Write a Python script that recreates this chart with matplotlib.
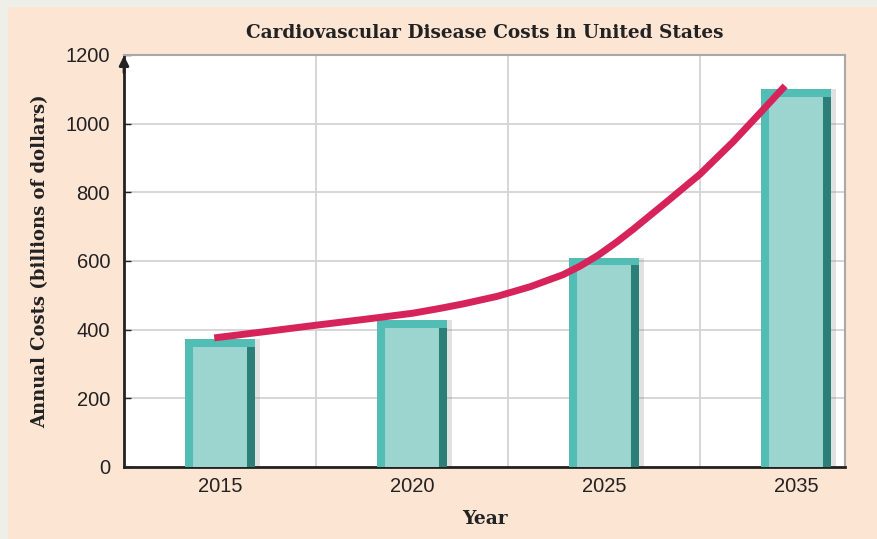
import matplotlib.pyplot as plt
from matplotlib.patches import Rectangle

# data
years = ['2015', '2020', '2025', '2035']
costs = [373, 428, 610, 1101]          # bar heights, billions of dollars
# trend curve, read point by point (x in bar-slot units)
trend_x = [-0.03, 0.245, 0.5, 0.766, 1.005, 1.146, 1.266, 1.443, 1.615, 1.786,
           1.875, 1.97, 2.068, 2.151, 2.328, 2.5, 2.672, 2.8125, 2.943]
trend_y = [376, 395, 413, 431, 448, 462, 475, 497, 525, 560,
           585, 617, 656, 692, 773, 853, 947, 1031, 1110]
y_ticks = [0, 200, 400, 600, 800, 1000, 1200]

peach = '#fde5d4'
teal = '#52bdb4'
teal_light = '#9cd5d0'
teal_dark = '#2c7f79'
red = '#d6245a'

fig = plt.figure(figsize=(8.77, 5.39), dpi=100)
fig.patch.set_facecolor('#efefe9')
fig.patches.append(Rectangle((8 / 877, 0), 1, 1 - 7 / 539, transform=fig.transFigure,
                             facecolor=peach, edgecolor='none', zorder=-10))

ax = fig.add_axes([124 / 877, 72 / 539, 721 / 877, 412 / 539])
ax.set_facecolor('white')

x = range(len(years))
w = 0.365        # outer bar width
inset = 0.042    # inner panel inset
top_off = 23     # inner panel top offset (data units)

# soft drop shadow, outer bar, dark right edge, light front panel
ax.bar([i + w / 2 + 0.012 for i in x], costs, width=0.03, color='#888888', alpha=0.25,
       zorder=2, linewidth=0)
ax.bar(x, costs, width=w, color=teal, zorder=3, linewidth=0)
inner_h = [c - top_off for c in costs]
ax.bar([i + w / 2 - inset / 2 for i in x], inner_h, width=inset, color=teal_dark,
       zorder=4, linewidth=0)
ax.bar([i - w / 2 + inset + (w - 2 * inset) / 2 for i in x], inner_h, width=w - 2 * inset,
       color=teal_light, zorder=5, linewidth=0)

ax.plot(trend_x, trend_y, color=red, linewidth=5, solid_capstyle='butt',
        solid_joinstyle='round', zorder=6)

ax.set_xlim(-0.5, 3.255)
ax.set_ylim(0, 1200)
ax.set_xticks(list(x))
ax.set_xticklabels(years)
ax.set_yticks(y_ticks)
ax.set_xticks([0.5, 1.5, 2.5], minor=True)
ax.grid(True, which='minor', axis='x', color='#d3d3d3', linewidth=1.3, zorder=0)
ax.grid(True, which='major', axis='y', color='#d3d3d3', linewidth=1.3, zorder=0)
ax.set_axisbelow(True)

ax.tick_params(axis='x', which='both', length=0, pad=7, labelsize=14.5, colors='#222222')
ax.tick_params(axis='y', direction='in', length=5, width=1, pad=10, labelsize=14.5,
               colors='#222222')
for lab in ax.get_xticklabels() + ax.get_yticklabels():
    lab.set_family('Liberation Sans')

ax.spines['left'].set_linewidth(2)
ax.spines['bottom'].set_linewidth(2)
ax.spines['left'].set_color('#222222')
ax.spines['bottom'].set_color('#222222')
ax.spines['top'].set_color('#a8a8a8')
ax.spines['right'].set_color('#a8a8a8')
ax.spines['top'].set_linewidth(1.5)
ax.spines['right'].set_linewidth(1.5)

# arrow at top of y axis
ax.annotate('', xy=(0, 1.005), xytext=(0, 0.95), xycoords='axes fraction',
            arrowprops=dict(arrowstyle='-|>', color='#222222', lw=2, mutation_scale=14),
            annotation_clip=False, zorder=10)

ax.set_title('Cardiovascular Disease Costs in United States', family='DejaVu Serif',
             fontweight='bold', fontsize=13.3, color='#222222', pad=12)
ax.set_xlabel('Year', family='DejaVu Serif', fontweight='bold', fontsize=13.5,
              color='#222222', labelpad=10)
ax.set_ylabel('Annual Costs (billions of dollars)', family='DejaVu Serif',
              fontweight='bold', fontsize=13, color='#222222', labelpad=12)

fig.savefig('out.png', dpi=100, facecolor=fig.get_facecolor())
